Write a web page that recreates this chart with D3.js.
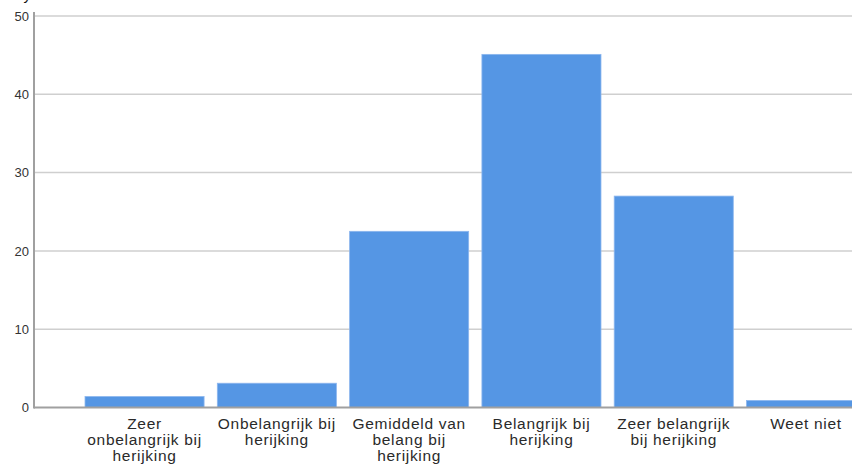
<!DOCTYPE html>
<html><head><meta charset="utf-8">
<script src="https://cdn.jsdelivr.net/npm/d3@7/dist/d3.min.js"></script>
<style>body{margin:0;background:#fff}svg{display:block}</style>
</head><body>
<script>
const categories = ["Zeer onbelangrijk bij herijking","Onbelangrijk bij herijking","Gemiddeld van belang bij herijking","Belangrijk bij herijking","Zeer belangrijk bij herijking","Weet niet"];
const values = [1.4, 3.1, 22.5, 45.1, 27.0, 0.9];
const yTicks = [0, 10, 20, 30, 40, 50];
const axisTitle = "Frequency";

const W = 852, H = 471;
const svg = d3.select("body").append("svg").attr("width", W).attr("height", H);
const x0 = 34, yBase = 407.5, yTop = 16;
const y = d3.scaleLinear().domain([0, 50]).range([yBase, yTop]);
const x = d3.scaleBand().domain(categories).range([78.4, 872.2]).paddingInner(0.1).paddingOuter(0.05);

// gridlines
svg.append("g").selectAll("line").data(yTicks.filter(d => d > 0)).join("line")
  .attr("x1", x0).attr("x2", W).attr("y1", d => y(d)).attr("y2", d => y(d))
  .attr("stroke", "#cfcfcf").attr("stroke-width", 1.5);

// bars
svg.append("g").selectAll("rect").data(values).join("rect")
  .attr("x", (d, i) => x(categories[i]))
  .attr("width", x.bandwidth())
  .attr("y", d => y(d))
  .attr("height", d => y(0) - y(d))
  .attr("fill", "#5596e4").attr("stroke", "#8cb6ee").attr("stroke-width", 0.8);

// y axis
const yAxis = d3.axisLeft(y).tickValues(yTicks).tickSize(0).tickPadding(5);
const ga = svg.append("g").attr("transform", `translate(${x0},0)`).call(yAxis);
ga.select(".domain").remove();
ga.selectAll("text").attr("font-family", "Liberation Sans, Arial, sans-serif").attr("font-size", 13).attr("fill", "#333");
svg.append("line").attr("x1", x0).attr("x2", x0).attr("y1", yTop - 4).attr("y2", yBase + 1)
  .attr("stroke", "#a0a0a0").attr("stroke-width", 2);
svg.append("line").attr("x1", x0).attr("x2", W).attr("y1", yBase).attr("y2", yBase)
  .attr("stroke", "#a0a0a0").attr("stroke-width", 2);

// title fragment at top (cut off in the reference too)
svg.append("text").attr("x", 31).attr("y", 0).attr("text-anchor", "end")
  .attr("font-family", "Liberation Sans, Arial, sans-serif").attr("font-size", 15).attr("fill", "#111").text(axisTitle);

// category labels with wrapping
const maxW = 124;
const lab = svg.append("g").attr("font-family", "Liberation Sans, Arial, sans-serif").attr("font-size", 15.5)
  .attr("letter-spacing", 0.7).attr("fill", "#2a2a2a").attr("text-anchor", "middle");
categories.forEach(c => {
  const cx = x(c) + x.bandwidth() / 2;
  const words = c.split(" ");
  let lines = [], cur = [];
  const probe = lab.append("text").style("visibility", "hidden");
  words.forEach(w => {
    const test = cur.concat([w]).join(" ");
    probe.text(test);
    if (cur.length && probe.node().getComputedTextLength() > maxW) { lines.push(cur.join(" ")); cur = [w]; }
    else cur.push(w);
  });
  lines.push(cur.join(" "));
  probe.remove();
  const t = lab.append("text").attr("x", cx).attr("y", 429);
  lines.forEach((l, i) => t.append("tspan").attr("x", cx).attr("y", 429 + i * 16).text(l));
});
</script>
</body></html>
